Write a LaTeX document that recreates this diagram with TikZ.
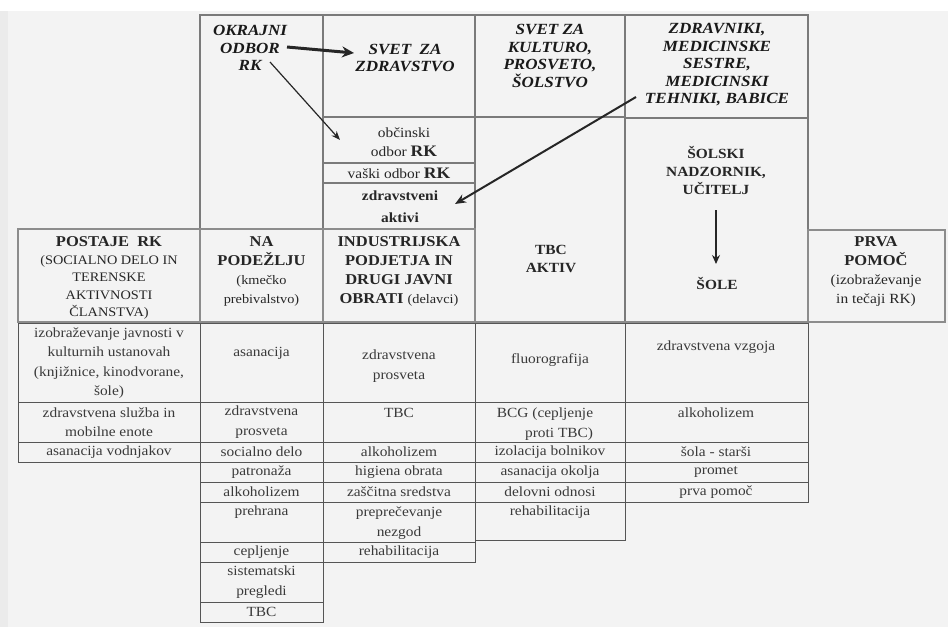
\documentclass[tikz,border=0pt]{standalone}
\usepackage{fontspec}
\setmainfont{Liberation Serif}[FakeStretch=1.1]
\usetikzlibrary{arrows.meta,fit}
\definecolor{bgc}{HTML}{F3F3F3}
\definecolor{thinl}{HTML}{555555}
\definecolor{midl}{HTML}{7A7A7A}
\definecolor{thickl}{HTML}{8C8C8C}
\definecolor{txtc}{HTML}{3A3A3A}
\tikzset{
  frame/.style={draw=thinl, line width=0.8pt, inner sep=0pt, outer sep=0pt},
  topframe/.style={draw=midl, line width=1.6pt, inner sep=0pt, outer sep=0pt},
  headframe/.style={draw=thickl, line width=2.6pt, inner sep=0pt, outer sep=0pt},
  dtext/.style={font=\fontsize{14}{19.5}\selectfont, text=txtc, align=center, inner sep=0pt},
  htext/.style={font=\fontsize{15}{19}\selectfont, text=black!85, align=center, inner sep=0pt},
  ttext/.style={font=\fontsize{15.5}{17.5}\selectfont\bfseries\itshape, text=black!90, align=center, inner sep=0pt},
  arr/.style={draw=black!85},
}
\newcommand\Cell[6]{\node[#1, fit={(#3,#4)(#5,#6)}] (#2) {};}
\newcommand\sub{\fontsize{13}{19}\selectfont\mdseries}
\newcommand\suba{\fontsize{13}{17.5}\selectfont\mdseries}
\begin{document}
\begin{tikzpicture}[x=1pt,y=-1pt]
\useasboundingbox (0,0) rectangle (948,627);
\fill[bgc] (0,0) rectangle (948,627);
\fill[white] (0,0) rectangle (948,11);
\fill[black!8] (0,11) rectangle (8,627);

% ---------- data table ----------
\Cell{frame}{a1}{18}{323}{200}{402}
\Cell{frame}{a2}{18}{402}{200}{442}
\Cell{frame}{a3}{18}{442}{200}{462}
\Cell{frame}{b1}{200}{323}{323}{402}
\Cell{frame}{b2}{200}{402}{323}{442}
\Cell{frame}{b3}{200}{442}{323}{462}
\Cell{frame}{b4}{200}{462}{323}{482}
\Cell{frame}{b5}{200}{482}{323}{502}
\Cell{frame}{b6}{200}{502}{323}{542}
\Cell{frame}{b7}{200}{542}{323}{562}
\Cell{frame}{b8}{200}{562}{323}{602}
\Cell{frame}{b9}{200}{602}{323}{622}
\Cell{frame}{c1}{323}{323}{475}{402}
\Cell{frame}{c2}{323}{402}{475}{442}
\Cell{frame}{c3}{323}{442}{475}{462}
\Cell{frame}{c4}{323}{462}{475}{482}
\Cell{frame}{c5}{323}{482}{475}{502}
\Cell{frame}{c6}{323}{502}{475}{542}
\Cell{frame}{c7}{323}{542}{475}{562}
\Cell{frame}{d1}{475}{323}{625}{402}
\Cell{frame}{d2}{475}{402}{625}{442}
\Cell{frame}{d3}{475}{442}{625}{462}
\Cell{frame}{d4}{475}{462}{625}{482}
\Cell{frame}{d5}{475}{482}{625}{502}
\Cell{frame}{d6}{475}{502}{625}{540}
\Cell{frame}{e1}{625}{323}{808}{402}
\Cell{frame}{e2}{625}{402}{808}{442}
\Cell{frame}{e3}{625}{442}{808}{462}
\Cell{frame}{e4}{625}{462}{808}{482}
\Cell{frame}{e5}{625}{482}{808}{502}

% ---------- upper section ----------
\Cell{topframe}{okr}{200}{15}{323}{229}
\Cell{topframe}{svz}{323}{15}{475}{117}
\Cell{topframe}{svk}{475}{15}{625}{117}
\Cell{topframe}{zdr}{625}{15}{808}{118}
\Cell{topframe}{obc}{323}{117}{475}{163}
\Cell{topframe}{vas}{323}{163}{475}{183}
\Cell{topframe}{akt}{323}{183}{475}{229}
\Cell{topframe}{tbc}{475}{117}{625}{322}
\Cell{topframe}{sol}{625}{118}{808}{322}

% ---------- header row ----------
\Cell{headframe}{ha}{18}{229}{200}{322}
\Cell{headframe}{hb}{200}{229}{323}{322}
\Cell{headframe}{hc}{323}{229}{475}{322}
\Cell{headframe}{hf}{808}{230}{945}{322}
\draw[draw=thickl, line width=2.6pt] (tbc.south west) -- (sol.south east);

% ---------- upper texts ----------
\node[ttext] (t-okr) at (250,48) {OKRAJNI\\ODBOR\\RK};
\node[ttext] (t-svz) at (405,58) {SVET\ \ ZA\\ZDRAVSTVO};
\node[ttext] (t-svk) at (550,56) {SVET ZA\\KULTURO,\\PROSVETO,\\ŠOLSTVO};
\node[ttext] (t-zdr) at (717,65) {ZDRAVNIKI,\\MEDICINSKE\\SESTRE,\\MEDICINSKI\\TEHNIKI, BABICE};
\node[dtext, text=black!85] (t-obc) at (404,142) {občinski\\odbor {\fontsize{16}{19}\selectfont\bfseries RK}};
\node[dtext, text=black!85] (t-vas) at (399,173) {vaški odbor {\fontsize{16}{19}\selectfont\bfseries RK}};
\node[dtext, text=black!85, font=\fontsize{14}{22}\selectfont\bfseries] (t-akt) at (400,207) {zdravstveni\\aktivi};
\node[htext, font=\fontsize{14}{18}\selectfont\bfseries] (t-tbc) at (551,259) {TBC\\AKTIV};
\node[htext, font=\fontsize{14}{18}\selectfont\bfseries] (t-sol) at (716,170) {ŠOLSKI\\NADZORNIK,\\UČITELJ};
\node[htext, font=\fontsize{14}{18}\selectfont\bfseries] (t-sole) at (717,283) {ŠOLE};

% ---------- header texts ----------
\node[htext, font=\fontsize{15}{17.5}\selectfont] (t-ha) at (109,278) {\bfseries POSTAJE\ \ RK\\\suba (SOCIALNO DELO IN\\\suba TERENSKE\\\suba AKTIVNOSTI\\\suba ČLANSTVA)};
\node[htext] (t-hb) at (261.5,271.5) {\bfseries NA\\\bfseries PODEŽLJU\\\sub (kmečko\\\sub prebivalstvo)};
\node[htext] (t-hc) at (399,271.5) {\bfseries INDUSTRIJSKA\\\bfseries PODJETJA IN\\\bfseries DRUGI JAVNI\\\bfseries OBRATI {\sub (delavci)}};
\node[htext] (t-hf) at (876,272) {\bfseries PRVA\\\bfseries POMOČ\\\fontsize{14}{19}\selectfont\mdseries (izobraževanje\\\fontsize{14}{19}\selectfont\mdseries in tečaji RK)};

% ---------- data texts ----------
\node[dtext] (t-a1) at (109,363) {izobraževanje javnosti v\\kulturnih ustanovah\\(knjižnice, kinodvorane,\\šole)};
\node[dtext] (t-a2) at (109,422) {zdravstvena služba in\\mobilne enote};
\node[dtext] (t-a3) at (109,452) {asanacija vodnjakov};
\node[dtext] (t-b1) at (261.5,353) {asanacija};
\node[dtext] (t-b2) at (261.5,422) {zdravstvena\\prosveta};
\node[dtext] (t-b3) at (261.5,452) {socialno delo};
\node[dtext] (t-b4) at (261.5,472) {patronaža};
\node[dtext] (t-b5) at (261.5,492) {alkoholizem};
\node[dtext] (t-b6) at (261.5,512) {prehrana};
\node[dtext] (t-b7) at (261.5,552) {cepljenje};
\node[dtext] (t-b8) at (261.5,582) {sistematski\\pregledi};
\node[dtext] (t-b9) at (261.5,612) {TBC};
\node[dtext] (t-c1) at (399,366) {zdravstvena\\prosveta};
\node[dtext] (t-c2) at (399,413) {TBC};
\node[dtext] (t-c3) at (399,452) {alkoholizem};
\node[dtext] (t-c4) at (399,472) {higiena obrata};
\node[dtext] (t-c5) at (399,492) {zaščitna sredstva};
\node[dtext] (t-c6) at (399,523) {preprečevanje\\nezgod};
\node[dtext] (t-c7) at (399,552) {rehabilitacija};
\node[dtext] (t-d1) at (550,360) {fluorografija};
\node[dtext, align=right] (t-d2) at (545,424) {BCG (cepljenje\\proti TBC)};
\node[dtext] (t-d3) at (550,452) {izolacija bolnikov};
\node[dtext] (t-d4) at (550,472) {asanacija okolja};
\node[dtext] (t-d5) at (550,492) {delovni odnosi};
\node[dtext] (t-d6) at (550,512) {rehabilitacija};
\node[dtext] (t-e1) at (716,347) {zdravstvena vzgoja};
\node[dtext] (t-e2) at (716,413) {alkoholizem};
\node[dtext] (t-e3) at (716,452) {šola - starši};
\node[dtext] (t-e4) at (716,472) {promet};
\node[dtext] (t-e5) at (716,492) {prva pomoč};

% ---------- arrows ----------
\coordinate (a1s) at (287,47);
\coordinate (a1e) at (354,53);
\coordinate (a2s) at (270,62);
\coordinate (a2e) at (340,140);
\coordinate (a3s) at (636,97);
\coordinate (a3e) at (455,204);
\coordinate (a4s) at (716,210);
\coordinate (a4e) at (716,264);
\draw[arr, line width=3pt, -{Stealth[length=12pt,width=11pt]}] (a1s) -- (a1e);
\draw[arr, line width=1.2pt, -{Stealth[length=9pt,width=7pt]}] (a2s) -- (a2e);
\draw[arr, line width=2pt, -{Stealth[length=11pt,width=9pt]}] (a3s) -- (a3e);
\draw[arr, line width=1.3pt, -{Stealth[length=9pt,width=8pt]}] (a4s) -- (a4e);
\end{tikzpicture}
\end{document}
